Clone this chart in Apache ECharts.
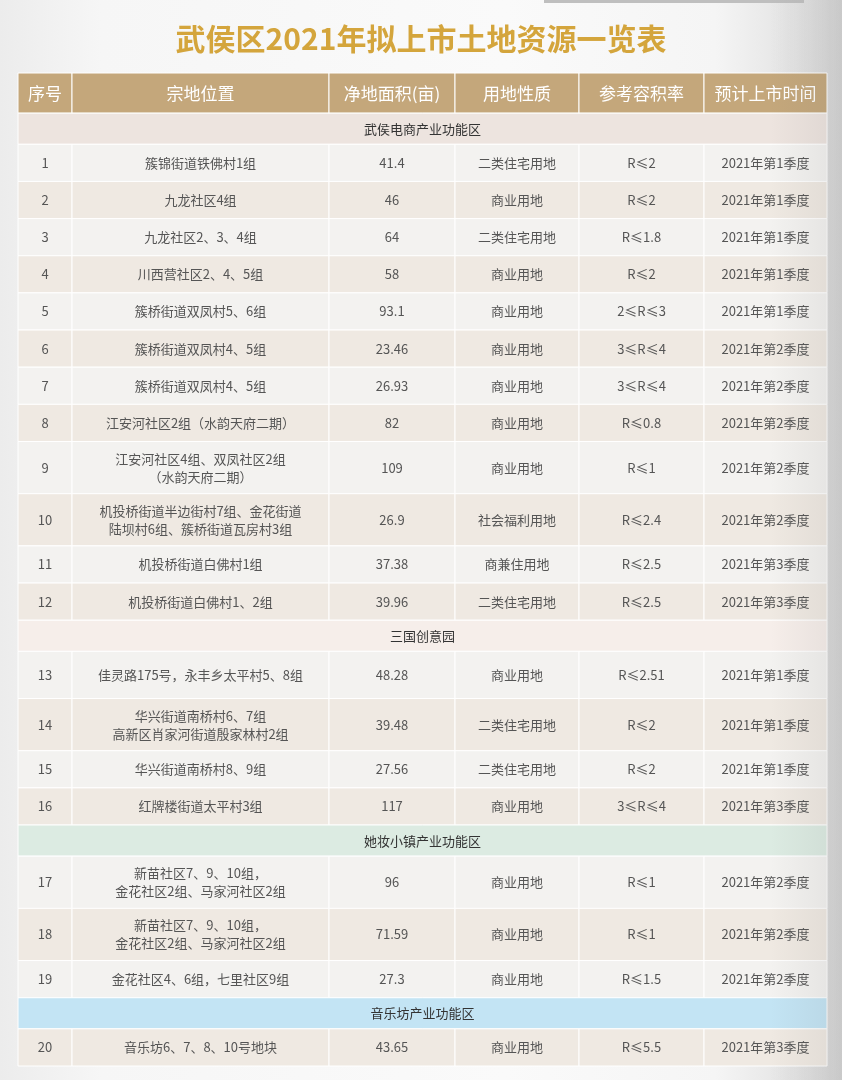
<!DOCTYPE html>
<html><head><meta charset="utf-8">
<script src="https://cdn.jsdelivr.net/npm/echarts@6/dist/echarts.min.js"></script>
<style>
html,body{margin:0;padding:0;width:842px;height:1080px;overflow:hidden;
background:linear-gradient(to right,#ececec 0%,#f6f6f6 12%,#fafafa 60%,#f5f5f5 85%,#e4e4e4 94%,#d6d6d6 100%);}
#c{width:842px;height:1080px;}
</style>
</head><body><div id="c"></div><script>
// ---------- data ----------
const titleText = '武侯区2021年拟上市土地资源一览表';
const headers = ['序号', '宗地位置', '净地面积(亩)', '用地性质', '参考容积率', '预计上市时间'];
const seqNo = ['1','2','3','4','5','6','7','8','9','10','11','12','13','14','15','16','17','18','19','20'];
const locations = [
  '簇锦街道铁佛村1组',
  '九龙社区4组',
  '九龙社区2、3、4组',
  '川西营社区2、4、5组',
  '簇桥街道双凤村5、6组',
  '簇桥街道双凤村4、5组',
  '簇桥街道双凤村4、5组',
  '江安河社区2组（水韵天府二期）',
  '江安河社区4组、双凤社区2组\n（水韵天府二期）',
  '机投桥街道半边街村7组、金花街道\n陆坝村6组、簇桥街道瓦房村3组',
  '机投桥街道白佛村1组',
  '机投桥街道白佛村1、2组',
  '佳灵路175号，永丰乡太平村5、8组',
  '华兴街道南桥村6、7组\n高新区肖家河街道殷家林村2组',
  '华兴街道南桥村8、9组',
  '红牌楼街道太平村3组',
  '新苗社区7、9、10组，\n金花社区2组、马家河社区2组',
  '新苗社区7、9、10组，\n金花社区2组、马家河社区2组',
  '金花社区4、6组，七里社区9组',
  '音乐坊6、7、8、10号地块'
];
const areas = [41.4, 46, 64, 58, 93.1, 23.46, 26.93, 82, 109, 26.9, 37.38, 39.96, 48.28, 39.48, 27.56, 117, 96, 71.59, 27.3, 43.65];
const landUse = ['二类住宅用地','商业用地','二类住宅用地','商业用地','商业用地','商业用地','商业用地','商业用地','商业用地','社会福利用地',
  '商兼住用地','二类住宅用地','商业用地','二类住宅用地','二类住宅用地','商业用地','商业用地','商业用地','商业用地','商业用地'];
const plotRatio = ['R≤2','R≤2','R≤1.8','R≤2','2≤R≤3','3≤R≤4','3≤R≤4','R≤0.8','R≤1','R≤2.4',
  'R≤2.5','R≤2.5','R≤2.51','R≤2','R≤2','3≤R≤4','R≤1','R≤1','R≤1.5','R≤5.5'];
const launchTime = ['2021年第1季度','2021年第1季度','2021年第1季度','2021年第1季度','2021年第1季度',
  '2021年第2季度','2021年第2季度','2021年第2季度','2021年第2季度','2021年第2季度',
  '2021年第3季度','2021年第3季度','2021年第1季度','2021年第1季度','2021年第1季度',
  '2021年第3季度','2021年第2季度','2021年第2季度','2021年第2季度','2021年第3季度'];
const sectionNames = ['武侯电商产业功能区', '三国创意园', '她妆小镇产业功能区', '音乐坊产业功能区'];
const sectionStarts = [0, 12, 16, 19];

// ---------- layout ----------
const colW = [54, 257, 126, 124, 125, 123];
const totalW = colW.reduce((a, b) => a + b, 0);
const H = { header: 40, section: 31, line1: 37, line2: 52 };
const heightOverride = { 12: 47 };
const sectionFill = ['#ede4df', '#f6eeea', '#dcebe2', '#c3e4f4'];

const cells = [], cellText = [], cellKind = [];
let yPos = 0;
function pushRow(texts, h, kind) {
  let x = 0;
  texts.forEach((t, c) => {
    cells.push([x, yPos, x + colW[c], yPos + h]);
    cellText.push(t);
    cellKind.push(kind);
    x += colW[c];
  });
  yPos += h;
}
pushRow(headers, H.header, 'header');
for (let i = 0; i < locations.length; i++) {
  const s = sectionStarts.indexOf(i);
  if (s >= 0) {
    cells.push([0, yPos, totalW, yPos + H.section]);
    cellText.push(sectionNames[s]);
    cellKind.push('sec' + s);
    yPos += H.section;
  }
  const texts = [seqNo[i], locations[i], String(areas[i]), landUse[i], plotRatio[i], launchTime[i]];
  const lines = Math.max(...texts.map(t => t.split('\n').length));
  const h = heightOverride[i] || (lines > 1 ? H.line2 : H.line1);
  pushRow(texts, h, i % 2 === 0 ? 'odd' : 'even');
}
const totalH = yPos;

const styles = {
  header: { fill: '#c4a77b', color: '#ffffff', size: 17 },
  odd: { fill: '#f3f2f0', color: '#555555', size: 13 },
  even: { fill: '#efe9e2', color: '#555555', size: 13 },
  sec0: { fill: sectionFill[0], color: '#333333', size: 13 },
  sec1: { fill: sectionFill[1], color: '#333333', size: 13 },
  sec2: { fill: sectionFill[2], color: '#333333', size: 13 },
  sec3: { fill: sectionFill[3], color: '#333333', size: 13 }
};

const chart = echarts.init(document.getElementById('c'), null, { renderer: 'canvas' });
chart.setOption({
  backgroundColor: 'transparent',
  animation: false,
  title: {
    text: titleText, left: 'center', top: 19,
    textStyle: { fontSize: 30, fontWeight: 'bold', color: '#d4a53c', fontFamily: 'Noto Sans CJK SC' }
  },
  grid: { left: 18, right: 15, top: 73, bottom: 14 },
  xAxis: { type: 'value', min: 0, max: totalW, show: false },
  yAxis: { type: 'value', min: 0, max: totalH, inverse: true, show: false },
  graphic: [
    { type: 'rect', shape: { x: 544, y: 0, width: 260, height: 3 }, style: { fill: '#bfbfbf' }, silent: true, z: 10 },
    { type: 'rect', shape: { x: 770, y: 0, width: 72, height: 1080 }, z: 100, silent: true,
      style: { fill: new echarts.graphic.LinearGradient(0, 0, 1, 0, [
        { offset: 0, color: 'rgba(110,110,110,0)' },
        { offset: 1, color: 'rgba(110,110,110,0.12)' }
      ]) } }
  ],
  series: [{
    type: 'custom',
    data: cells,
    clip: false,
    renderItem: function (params, api) {
      const i = params.dataIndex;
      const p0 = api.coord([api.value(0), api.value(1)]);
      const p1 = api.coord([api.value(2), api.value(3)]);
      const st = styles[cellKind[i]];
      return {
        type: 'group',
        children: [
          { type: 'rect', shape: { x: p0[0], y: p0[1], width: p1[0] - p0[0], height: p1[1] - p0[1] },
            style: { fill: st.fill, stroke: '#ffffff', lineWidth: 1 } },
          { type: 'text', style: {
              text: cellText[i], x: (p0[0] + p1[0]) / 2, y: (p0[1] + p1[1]) / 2,
              align: 'center', verticalAlign: 'middle', fill: st.color,
              fontSize: st.size, fontFamily: 'Noto Sans CJK SC', lineHeight: 18 } }
        ]
      };
    }
  }]
});
</script></body></html>
